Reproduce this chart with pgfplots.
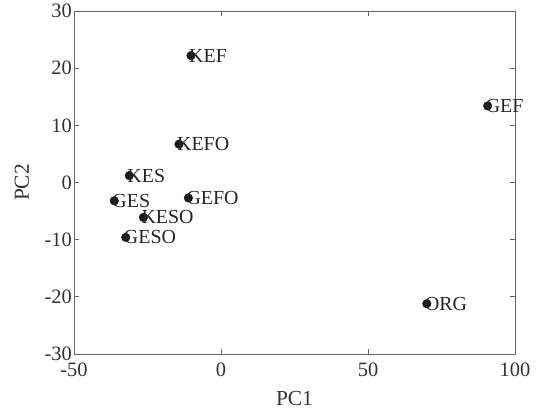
\documentclass[border=0pt]{standalone}
\usepackage{pgfplots}
\pgfplotsset{compat=1.18}
\usepackage{fontspec}
\setmainfont{Liberation Serif}
\begin{document}
\begin{tikzpicture}
\begin{axis}[
  name=ax,
  scale only axis,
  width=441bp, height=343bp,
  xmin=-50, xmax=100, ymin=-30, ymax=30,
  xtick={-50,0,50,100}, ytick={-30,-20,...,30},
  tick align=inside,
  major tick length=5bp,
  axis line style={draw=black!60, line width=0.8pt},
  every tick/.style={draw=black!60, line width=0.8pt},
  tick label style={font=\fontsize{20.5}{22}\selectfont, text=black!80},
  xticklabel style={inner sep=1bp, yshift=-8bp},
  yticklabel style={inner sep=2bp},
  /pgf/number format/assume math mode=true,
  xlabel={PC1}, ylabel={PC2},
  label style={font=\fontsize{21.5}{23}\selectfont, text=black!80},
  xlabel style={yshift=-10bp},
  ylabel style={yshift=10bp},
  clip=false,
  nodes near coords,
  point meta=explicit symbolic,
  every node near coord/.style={anchor=west, inner sep=0pt, xshift=-2bp, font=\fontsize{20}{22}\selectfont, text=black!85},
]
\addplot[only marks, mark=*, mark size=4.3bp, mark options={fill=black!90, draw=black!90}]
  table[meta=label] {
x y label
-10.2 22.2 KEF
-14.3 6.7 KEFO
-31.2 1.2 KES
-36.3 -3.2 GES
-11.1 -2.7 GEFO
-26.4 -6.1 KESO
-32.4 -9.6 GESO
90.7 13.4 GEF
70.0 -21.2 ORG
};
\end{axis}
\path (ax.south west) ++(-74bp,-55bp) coordinate (bl);
\path (ax.north east) ++(23bp,11bp) coordinate (tr);
\path (bl) rectangle (tr);
\end{tikzpicture}
\end{document}
